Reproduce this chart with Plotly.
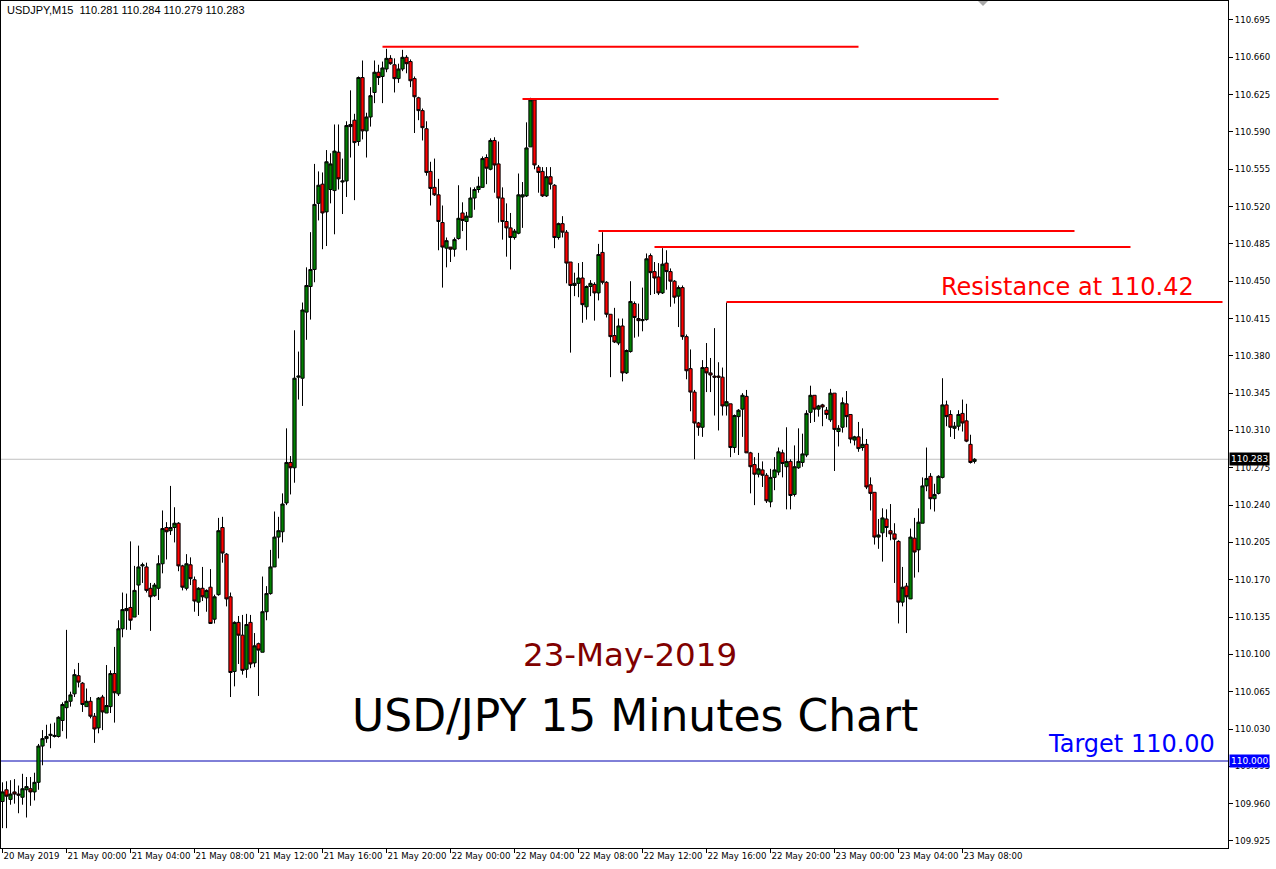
import pandas as pd
import plotly.graph_objects as go

# USDJPY M15 bars, 20 May 2019 20:00 .. 23 May 2019 08:45
bar_start = "2019-05-20 20:00"

open_ = [
    109.962, 109.973, 109.964, 109.971, 109.969, 109.966, 109.973, 109.974, 109.971, 109.980,
    110.014, 110.021, 110.024, 110.023, 110.023, 110.038, 110.050, 110.056, 110.063, 110.080,
    110.073, 110.051, 110.056, 110.042, 110.031, 110.060, 110.045, 110.051, 110.082, 110.063,
    110.124, 110.141, 110.144, 110.135, 110.165, 110.183, 110.182, 110.162, 110.155, 110.162,
    110.185, 110.219, 110.216, 110.219, 110.223, 110.183, 110.162, 110.184, 110.170, 110.149,
    110.162, 110.153, 110.163, 110.133, 110.156, 110.219, 110.194, 110.154, 110.084, 110.130,
    110.118, 110.086, 110.130, 110.092, 110.110, 110.102, 110.140, 110.157, 110.182, 110.210,
    110.215, 110.242, 110.280, 110.275, 110.360, 110.359, 110.421, 110.445, 110.461, 110.523,
    110.541, 110.515, 110.536, 110.535, 110.571, 110.543, 110.544, 110.595, 110.601, 110.581,
    110.641, 110.591, 110.604, 110.627, 110.646, 110.642, 110.649, 110.659, 110.653, 110.640,
    110.649, 110.660, 110.656, 110.640, 110.622, 110.610, 110.593, 110.553, 110.538, 110.531,
    110.505, 110.481, 110.482, 110.480, 110.490, 110.514, 110.506, 110.510, 110.528, 110.536,
    110.538, 110.566, 110.555, 110.582, 110.560, 110.528, 110.506, 110.500, 110.491, 110.495,
    110.529, 110.530, 110.576, 110.620, 110.557, 110.553, 110.530, 110.548, 110.540, 110.491,
    110.504, 110.496, 110.468, 110.446, 110.448, 110.453, 110.426, 110.445, 110.447, 110.439,
    110.477, 110.449, 110.419, 110.399, 110.392, 110.408, 110.364, 110.384, 110.429, 110.415,
    110.413, 110.414, 110.474, 110.459, 110.454, 110.439, 110.467, 110.459, 110.450, 110.436,
    110.444, 110.398, 110.368, 110.346, 110.317, 110.313, 110.369, 110.364, 110.361, 110.361,
    110.360, 110.333, 110.335, 110.294, 110.323, 110.330, 110.342, 110.289, 110.278, 110.269,
    110.273, 110.268, 110.243, 110.266, 110.271, 110.289, 110.276, 110.281, 110.250, 110.275,
    110.280, 110.287, 110.327, 110.343, 110.330, 110.334, 110.329, 110.320, 110.345, 110.309,
    110.313, 110.335, 110.325, 110.301, 110.304, 110.294, 110.297, 110.259, 110.252, 110.210,
    110.214, 110.227, 110.216, 110.213, 110.206, 110.149, 110.164, 110.152, 110.209, 110.198,
    110.223, 110.258, 110.267, 110.246, 110.251, 110.266, 110.334, 110.325, 110.312, 110.314,
    110.326, 110.319, 110.297, 110.281,
]
high = [
    109.980, 109.981, 109.982, 109.983, 109.977, 109.988, 109.985, 109.985, 109.989, 110.016,
    110.029, 110.034, 110.035, 110.036, 110.042, 110.055, 110.123, 110.065, 110.086, 110.092,
    110.074, 110.068, 110.060, 110.045, 110.060, 110.062, 110.090, 110.085, 110.107, 110.132,
    110.158, 110.157, 110.206, 110.183, 110.202, 110.186, 110.186, 110.167, 110.167, 110.193,
    110.235, 110.224, 110.258, 110.238, 110.224, 110.184, 110.194, 110.191, 110.173, 110.163,
    110.182, 110.161, 110.180, 110.156, 110.228, 110.229, 110.195, 110.158, 110.131, 110.136,
    110.137, 110.138, 110.137, 110.120, 110.111, 110.173, 110.164, 110.198, 110.234, 110.229,
    110.251, 110.312, 110.286, 110.404, 110.384, 110.430, 110.463, 110.496, 110.560, 110.553,
    110.552, 110.573, 110.570, 110.597, 110.597, 110.565, 110.600, 110.629, 110.607, 110.642,
    110.657, 110.608, 110.632, 110.657, 110.653, 110.656, 110.668, 110.662, 110.659, 110.654,
    110.667, 110.662, 110.658, 110.642, 110.623, 110.612, 110.600, 110.562, 110.565, 110.546,
    110.521, 110.491, 110.482, 110.491, 110.540, 110.524, 110.515, 110.538, 110.538, 110.548,
    110.567, 110.569, 110.584, 110.585, 110.581, 110.538, 110.523, 110.514, 110.499, 110.551,
    110.543, 110.599, 110.622, 110.621, 110.559, 110.557, 110.557, 110.557, 110.541, 110.505,
    110.511, 110.498, 110.468, 110.458, 110.467, 110.468, 110.446, 110.451, 110.449, 110.485,
    110.496, 110.450, 110.419, 110.425, 110.415, 110.415, 110.386, 110.450, 110.431, 110.429,
    110.444, 110.476, 110.476, 110.468, 110.467, 110.481, 110.479, 110.462, 110.451, 110.446,
    110.446, 110.400, 110.386, 110.348, 110.318, 110.376, 110.392, 110.378, 110.406, 110.374,
    110.369, 110.430, 110.335, 110.325, 110.330, 110.345, 110.348, 110.290, 110.285, 110.289,
    110.281, 110.270, 110.274, 110.285, 110.294, 110.292, 110.313, 110.283, 110.296, 110.312,
    110.307, 110.329, 110.352, 110.343, 110.334, 110.335, 110.332, 110.349, 110.345, 110.315,
    110.341, 110.347, 110.325, 110.305, 110.318, 110.312, 110.302, 110.266, 110.252, 110.227,
    110.237, 110.236, 110.241, 110.223, 110.207, 110.182, 110.167, 110.218, 110.228, 110.237,
    110.266, 110.294, 110.270, 110.260, 110.268, 110.359, 110.338, 110.329, 110.318, 110.329,
    110.339, 110.335, 110.306, 110.284,
]
low = [
    109.937, 109.937, 109.959, 109.960, 109.951, 109.959, 109.947, 109.958, 109.963, 109.973,
    109.996, 110.017, 110.012, 110.022, 110.022, 110.028, 110.021, 110.051, 110.060, 110.069,
    110.046, 110.051, 110.040, 110.017, 110.026, 110.029, 110.045, 110.045, 110.036, 110.061,
    110.116, 110.123, 110.123, 110.135, 110.137, 110.167, 110.158, 110.122, 110.154, 110.151,
    110.176, 110.189, 110.212, 110.205, 110.178, 110.160, 110.160, 110.165, 110.140, 110.136,
    110.150, 110.140, 110.129, 110.129, 110.155, 110.186, 110.145, 110.060, 110.070, 110.091,
    110.081, 110.078, 110.087, 110.088, 110.061, 110.102, 110.132, 110.156, 110.182, 110.190,
    110.205, 110.240, 110.250, 110.261, 110.339, 110.333, 110.395, 110.414, 110.449, 110.507,
    110.480, 110.483, 110.523, 110.494, 110.536, 110.513, 110.529, 110.566, 110.526, 110.577,
    110.583, 110.566, 110.595, 110.617, 110.634, 110.617, 110.646, 110.653, 110.627, 110.636,
    110.647, 110.645, 110.632, 110.589, 110.601, 110.582, 110.549, 110.521, 110.530, 110.479,
    110.444, 110.463, 110.468, 110.473, 110.489, 110.497, 110.479, 110.510, 110.517, 110.533,
    110.538, 110.541, 110.554, 110.533, 110.505, 110.489, 110.473, 110.461, 110.489, 110.494,
    110.500, 110.529, 110.576, 110.555, 110.533, 110.529, 110.529, 110.536, 110.481, 110.489,
    110.491, 110.448, 110.383, 110.436, 110.435, 110.411, 110.414, 110.436, 110.413, 110.432,
    110.447, 110.416, 110.360, 110.392, 110.390, 110.356, 110.363, 110.383, 110.397, 110.398,
    110.403, 110.413, 110.437, 110.438, 110.437, 110.438, 110.442, 110.426, 110.429, 110.407,
    110.395, 110.358, 110.328, 110.283, 110.305, 110.304, 110.346, 110.346, 110.324, 110.310,
    110.324, 110.324, 110.285, 110.289, 110.287, 110.304, 110.289, 110.251, 110.240, 110.266,
    110.257, 110.242, 110.238, 110.254, 110.268, 110.266, 110.236, 110.236, 110.248, 110.274,
    110.276, 110.285, 110.317, 110.318, 110.323, 110.314, 110.321, 110.318, 110.272, 110.295,
    110.308, 110.313, 110.298, 110.296, 110.290, 110.291, 110.255, 110.235, 110.203, 110.199,
    110.187, 110.210, 110.207, 110.167, 110.129, 110.145, 110.120, 110.152, 110.172, 110.177,
    110.223, 110.253, 110.236, 110.234, 110.250, 110.265, 110.314, 110.304, 110.302, 110.310,
    110.309, 110.299, 110.279, 110.279,
]
close = [
    109.971, 109.967, 109.969, 109.969, 109.968, 109.974, 109.976, 109.971, 109.980, 110.014,
    110.021, 110.023, 110.025, 110.024, 110.041, 110.053, 110.056, 110.062, 110.081, 110.074,
    110.053, 110.056, 110.042, 110.030, 110.059, 110.046, 110.052, 110.082, 110.064, 110.124,
    110.142, 110.143, 110.132, 110.160, 110.182, 110.184, 110.160, 110.154, 110.165, 110.185,
    110.218, 110.215, 110.219, 110.223, 110.183, 110.163, 110.185, 110.171, 110.150, 110.162,
    110.154, 110.160, 110.129, 110.154, 110.216, 110.195, 110.152, 110.083, 110.130, 110.118,
    110.085, 110.128, 110.091, 110.108, 110.104, 110.140, 110.157, 110.182, 110.210, 110.216,
    110.241, 110.280, 110.275, 110.359, 110.361, 110.423, 110.446, 110.461, 110.522, 110.540,
    110.514, 110.562, 110.560, 110.572, 110.546, 110.544, 110.596, 110.597, 110.580, 110.641,
    110.591, 110.604, 110.624, 110.646, 110.641, 110.650, 110.659, 110.654, 110.640, 110.649,
    110.660, 110.654, 110.638, 110.623, 110.610, 110.594, 110.552, 110.537, 110.531, 110.506,
    110.482, 110.488, 110.480, 110.489, 110.509, 110.507, 110.511, 110.528, 110.536, 110.539,
    110.565, 110.556, 110.582, 110.559, 110.528, 110.506, 110.500, 110.491, 110.497, 110.531,
    110.531, 110.575, 110.620, 110.559, 110.552, 110.530, 110.548, 110.541, 110.491, 110.504,
    110.496, 110.467, 110.446, 110.448, 110.453, 110.428, 110.445, 110.448, 110.439, 110.475,
    110.449, 110.419, 110.398, 110.393, 110.408, 110.364, 110.385, 110.431, 110.416, 110.413,
    110.414, 110.471, 110.458, 110.453, 110.439, 110.466, 110.459, 110.450, 110.435, 110.444,
    110.398, 110.366, 110.346, 110.317, 110.313, 110.369, 110.364, 110.362, 110.360, 110.360,
    110.333, 110.337, 110.294, 110.324, 110.329, 110.343, 110.289, 110.276, 110.269, 110.274,
    110.268, 110.244, 110.266, 110.273, 110.290, 110.279, 110.281, 110.249, 110.276, 110.281,
    110.288, 110.326, 110.343, 110.330, 110.333, 110.332, 110.325, 110.345, 110.311, 110.312,
    110.336, 110.323, 110.302, 110.304, 110.293, 110.297, 110.257, 110.251, 110.210, 110.212,
    110.228, 110.219, 110.213, 110.208, 110.149, 110.163, 110.154, 110.210, 110.196, 110.224,
    110.258, 110.265, 110.246, 110.250, 110.267, 110.334, 110.323, 110.313, 110.314, 110.325,
    110.317, 110.300, 110.280, 110.283,
]

# resistance lines drawn on the chart: level, start, end
res_levels = [110.670, 110.621, 110.497, 110.482, 110.4305]
res_start = ["2019-05-21 19:45", "2019-05-22 04:30", "2019-05-22 09:15",
             "2019-05-22 12:45", "2019-05-22 17:15"]
res_end = ["2019-05-23 01:30", "2019-05-23 10:15", "2019-05-23 15:00",
           "2019-05-23 18:30", "2019-05-24 00:15"]

last_price = 110.283
target_price = 110.000

times = pd.date_range(bar_start, periods=len(close), freq="15min")
bar = pd.Timedelta(minutes=15)

# plot box in pixels (MT4 window look)
W, H = 1276, 869
L, R, T, B = 1, 48, 1, 21
pw, ph = W - L - R, H - T - B


def px(x):
    return (x - L) / pw


def py(y):
    return 1 - (y - T) / ph


fig = go.Figure()
fig.add_trace(
    go.Candlestick(
        x=times,
        open=open_,
        high=high,
        low=low,
        close=close,
        increasing={"line": {"color": "black", "width": 1}, "fillcolor": "#008000"},
        decreasing={"line": {"color": "black", "width": 1}, "fillcolor": "#ff0000"},
        whiskerwidth=0,
        hoverinfo="skip",
    )
)

# price lines
fig.add_shape(type="line", xref="paper", x0=0, x1=1, y0=last_price, y1=last_price,
              line={"color": "#c0c0c0", "width": 1}, layer="below")
fig.add_shape(type="line", xref="paper", x0=0, x1=1, y0=target_price, y1=target_price,
              line={"color": "#0000b0", "width": 1}, layer="below")
for lvl, s, e in zip(res_levels, res_start, res_end):
    fig.add_shape(type="line", x0=s, x1=e, y0=lvl, y1=lvl,
                  line={"color": "#ff0000", "width": 2}, layer="above")

# small marker at top of window
fig.add_shape(type="path", xref="paper", yref="paper",
              path=f"M {px(978)} 1 L {px(988)} 1 L {px(983)} {py(6)} Z",
              fillcolor="#a8a8a8", line={"width": 0})

ann = [
    dict(x=px(5), y=py(10), text="USDJPY,M15  110.281 110.284 110.279 110.283",
         xanchor="left", font={"size": 11, "color": "black", "family": "Liberation Sans"}),
    dict(x=px(1067), y=py(287), text="Resistance at 110.42",
         font={"size": 24, "color": "#ff0000"}),
    dict(x=px(630), y=py(655), text="23-May-2019",
         font={"size": 32.5, "color": "#800000"}),
    dict(x=px(635), y=py(715), text="USD/JPY 15 Minutes Chart",
         font={"size": 44, "color": "black"}),
    dict(x=px(1131), y=py(744), text="Target 110.00",
         font={"size": 24, "color": "#0000ff"}),
]
for a in ann:
    a.setdefault("xanchor", "center")
    a.update(xref="paper", yref="paper", showarrow=False, yanchor="middle")
    a["font"].setdefault("family", "DejaVu Sans")
    fig.add_annotation(**a)

# price tags on the axis
for p, bg in [(last_price, "black"), (target_price, "#0000ff")]:
    fig.add_annotation(
        xref="paper", x=1, y=p, text=f"{p:.3f}", showarrow=False,
        xanchor="left", yanchor="middle", xshift=1, bgcolor=bg, borderpad=1,
        font={"size": 9, "color": "white", "family": "DejaVu Sans"},
    )

tick_times = pd.date_range(bar_start, "2019-05-23 08:00", freq="4h")
tick_text = ["20 May 2019"] + [t.strftime("%d %b %H:%M") for t in tick_times[1:]]

fig.update_layout(
    width=W,
    height=H,
    margin={"l": L, "r": R, "t": T, "b": B, "autoexpand": False},
    paper_bgcolor="white",
    plot_bgcolor="white",
    showlegend=False,
    boxgap=0.1,
    boxgroupgap=0.1,
    font={"family": "DejaVu Sans", "color": "black"},
    xaxis={
        "type": "date",
        "range": [times[0] - 0.375 * bar, times[0] + 306.375 * bar],
        "rangeslider": {"visible": False},
        "automargin": False,
        "showgrid": False,
        "zeroline": False,
        "showline": True,
        "linecolor": "black",
        "linewidth": 1,
        "mirror": True,
        "ticks": "outside",
        "ticklen": 4,
        "tickcolor": "black",
        "tickangle": 0,
        "tickvals": tick_times,
        "ticktext": tick_text,
        "ticklabelposition": "outside right",
        "tickfont": {"size": 8.6, "family": "DejaVu Sans"},
    },
    yaxis={
        "side": "right",
        "range": [109.9184, 110.7128],
        "automargin": False,
        "showgrid": False,
        "zeroline": False,
        "showline": True,
        "linecolor": "black",
        "linewidth": 1,
        "mirror": True,
        "ticks": "outside",
        "ticklen": 4,
        "tickcolor": "black",
        "tick0": 109.925,
        "dtick": 0.035,
        "tickformat": ".3f",
        "tickfont": {"size": 8.6, "family": "DejaVu Sans"},
    },
)

# page body has a default 8px margin; drop it so the chart sits at the window corner
fig.write_html(
    "out.html",
    config={"displayModeBar": False},
    post_script="document.body.style.margin='0';",
)
